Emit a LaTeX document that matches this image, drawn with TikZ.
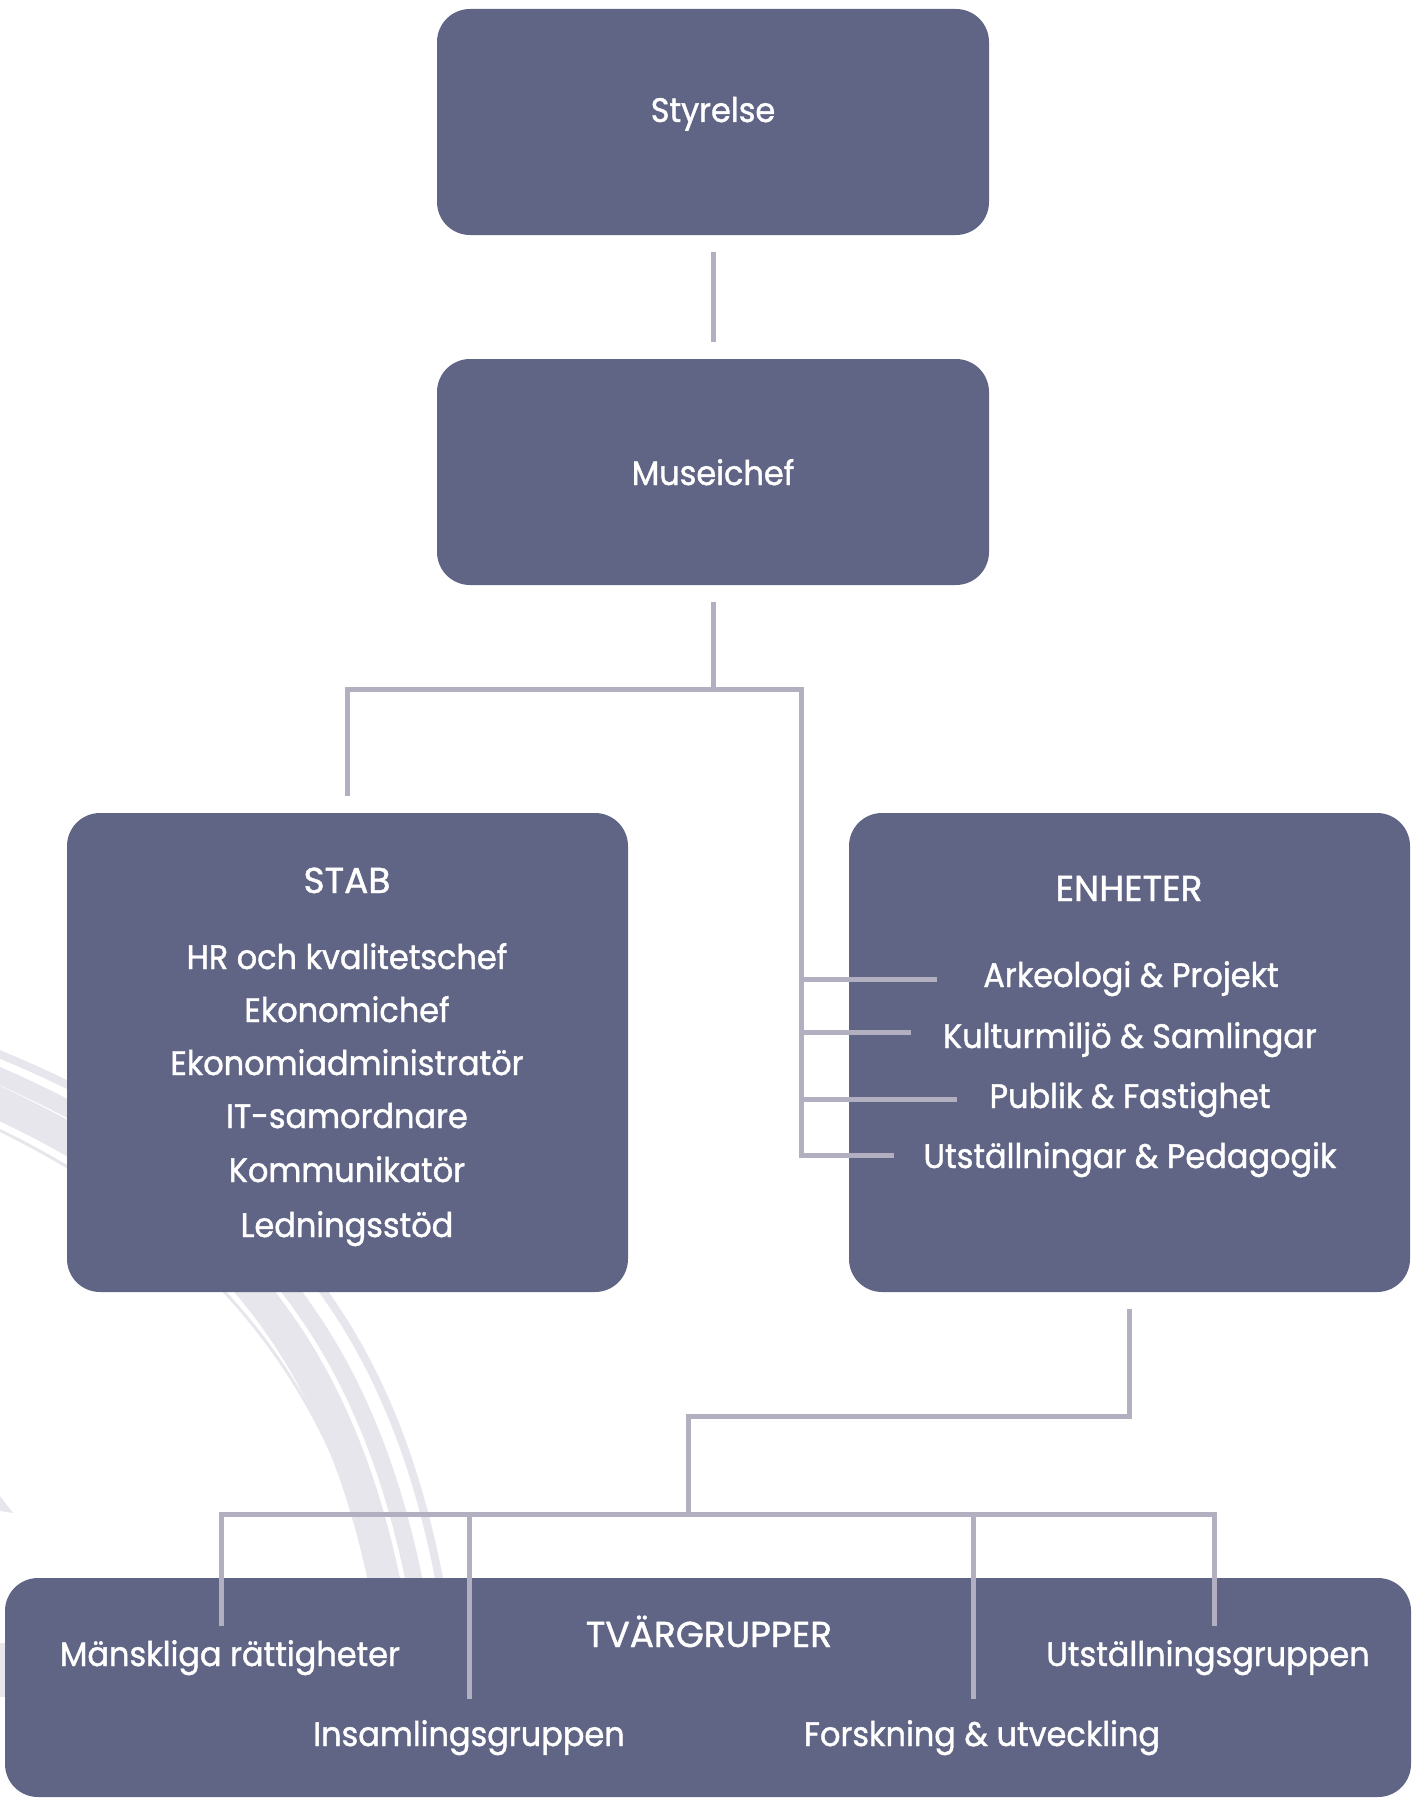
\documentclass[tikz,border=0pt]{standalone}
\usepackage{fontspec}
\setmainfont[FakeStretch=0.94,FakeBold=1.2]{Poppins}
\newfontfamily\headfont[FakeBold=1.2]{Poppins}
\definecolor{boxc}{HTML}{616585}
\definecolor{linec}{HTML}{B1AFC0}
\definecolor{arcc}{HTML}{E7E6EC}
\begin{document}
\begin{tikzpicture}[x=0.5pt,y=-0.5pt,
  box/.style={fill=boxc, rounded corners=16.5pt, inner sep=0pt, draw=none},
  lbl/.style={text=white, font=\fontsize{17}{20}\selectfont, anchor=base, inner sep=0pt},
  head/.style={lbl, font=\headfont\fontsize{18}{21}\selectfont},
  conn/.style={draw=linec, line width=2.5pt, line join=miter},
  swoosh/.style={draw=arcc, line cap=butt}]
\useasboundingbox (0,0) rectangle (1417,1798);
% background swoosh
\draw[swoosh, line width=16pt] (-60,1078) .. controls (262,1206) and (369,1400) .. (403,1700);
\draw[swoosh, line width=8.5pt] (-34,1062) .. controls (286,1190) and (395,1387) .. (431,1687);
\draw[swoosh, line width=4pt] (-11,1050) .. controls (309,1178) and (418,1375) .. (454,1675);
\draw[swoosh, line width=1.5pt] (-80,1095) .. controls (240,1223) and (360,1420) .. (400,1700);
\fill[arcc] (0,1496) -- (13,1513) -- (0,1511) -- cycle;
\fill[arcc] (0,1643) rectangle (6,1697);
% boxes
\node[box, minimum width=276pt, minimum height=113pt] (sty) at (713,122) {};
\node[box, minimum width=276pt, minimum height=113pt] (mus) at (713,472) {};
\node[box, minimum width=280.5pt, minimum height=239.5pt] (stab) at (347.5,1052.5) {};
\node[box, minimum width=280.5pt, minimum height=239.5pt] (enh) at (1129.5,1052.5) {};
\node[box, minimum width=703pt, minimum height=109.5pt] (tvar) at (708,1687.5) {};
% labels
\node[lbl] (tsty) at (713,122) {Styrelse};
\node[lbl] (tmus) at (713,485) {Museichef};
\node[head] (tstab) at (347,893) {STAB};
\node[lbl] (s1) at (347,969) {HR och kvalitetschef};
\node[lbl] (s2) at (347,1022) {Ekonomichef};
\node[lbl] (s3) at (347,1075) {Ekonomiadministratör};
\node[lbl] (s4) at (347,1128) {IT-samordnare};
\node[lbl] (s5) at (347,1182) {Kommunikatör};
\node[lbl] (s6) at (347,1237) {Ledningsstöd};
\node[head] (tenh) at (1129,901) {ENHETER};
\node[lbl] (e1t) at (1131,987) {Arkeologi \& Projekt};
\node[lbl] (e2t) at (1130,1048) {Kulturmiljö \& Samlingar};
\node[lbl] (e3t) at (1130,1108) {Publik \& Fastighet};
\node[lbl] (e4t) at (1130,1168) {Utställningar \& Pedagogik};
\node[head] (ttvar) at (709,1647) {TVÄRGRUPPER};
\node[lbl] (g1) at (230,1666) {Mänskliga rättigheter};
\node[lbl] (g2) at (469,1746) {Insamlingsgruppen};
\node[lbl] (g3) at (982,1746) {Forskning \& utveckling};
\node[lbl] (g4) at (1208,1666) {Utställningsgruppen};
% connector coordinates
\coordinate (jR) at (801,689);
\coordinate (b1) at (937,979);
\coordinate (b2) at (911,1032);
\coordinate (b3) at (957,1099);
\coordinate (b4) at (894,1155);
\coordinate (k1) at (688,1416);
\coordinate (k2) at (688,1514);
\coordinate (dm) at (221,1626);
\coordinate (di) at (469,1699);
\coordinate (df) at (973,1699);
\coordinate (du) at (1214,1626);
% connectors
\draw[conn, shorten <=8.5pt, shorten >=8.5pt] (sty.south) -- (mus.north);
\draw[conn, shorten <=8.5pt] (mus.south) -- (mus.south |- jR);
\draw[conn, shorten <=8.5pt] (stab.north) |- (jR) -- (jR |- b4) -- (b4);
\draw[conn] (jR |- b1) -- (b1);
\draw[conn] (jR |- b2) -- (b2);
\draw[conn] (jR |- b3) -- (b3);
\draw[conn, shorten <=8.5pt] (enh.south) |- (k1) -- (k2);
\draw[conn] (dm) |- (k2) -| (du);
\draw[conn] (di |- k2) -- (di);
\draw[conn] (df |- k2) -- (df);
\end{tikzpicture}
\end{document}
